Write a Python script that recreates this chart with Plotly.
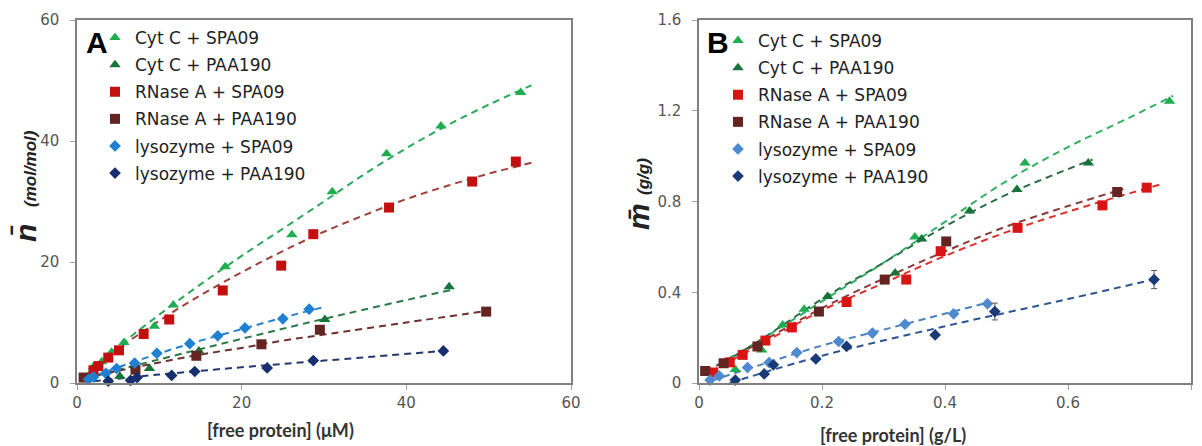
import plotly.graph_objects as go

# ---------------- Panel A data (free protein uM vs n-bar mol/mol) ----------------
a_cyt_spa_x = [2.0, 3.0, 4.2, 5.7, 9.4, 11.7, 18.0, 26.1, 31.0, 37.6, 44.2, 53.9]
a_cyt_spa_y = [2.7, 3.5, 5.1, 6.7, 9.4, 12.9, 19.2, 24.5, 31.6, 37.9, 42.5, 48.0]
a_cyt_paa_x = [5.2, 8.8, 14.8, 30.1, 45.2]
a_cyt_paa_y = [1.1, 2.4, 5.3, 10.5, 15.9]
a_rna_spa_x = [2.0, 2.6, 3.8, 5.1, 8.1, 11.2, 17.7, 24.8, 28.7, 37.9, 48.0, 53.3]
a_rna_spa_y = [2.1, 2.8, 4.2, 5.4, 8.1, 10.5, 15.3, 19.4, 24.6, 29.0, 33.3, 36.6]
a_rna_paa_x = [0.8, 7.1, 14.5, 22.4, 29.5, 49.7]
a_rna_paa_y = [0.9, 2.2, 4.5, 6.4, 8.8, 11.8]
a_lys_spa_x = [1.4, 2.0, 3.5, 4.8, 7.0, 9.7, 13.7, 17.1, 20.4, 25.0, 28.2]
a_lys_spa_y = [0.6, 1.0, 1.6, 2.4, 3.3, 4.9, 6.5, 7.8, 9.1, 10.6, 12.2]
a_lys_paa_x = [3.8, 6.5, 7.3, 11.5, 14.3, 23.1, 28.7, 44.5]
a_lys_paa_y = [0.3, 0.45, 0.9, 1.25, 1.9, 2.5, 3.7, 5.3]

# fitted curves
a_fit_cyt_spa_x = [1, 5, 10, 15, 20, 25, 30, 35, 40, 45, 50, 55.2]
a_fit_cyt_spa_y = [1.2, 6.0, 11.3, 16.3, 21.0, 25.5, 30.0, 34.6, 38.8, 42.6, 46.0, 49.2]
a_fit_cyt_paa_x = [2, 10, 20, 30, 45.5]
a_fit_cyt_paa_y = [1.1, 3.9, 7.3, 10.6, 15.4]
a_fit_rna_spa_x = [1, 5, 10, 15, 20, 25, 30, 35, 40, 45, 50, 55.2]
a_fit_rna_spa_y = [1.1, 5.6, 10.3, 14.5, 18.3, 21.8, 25.0, 27.8, 30.4, 32.6, 34.6, 36.4]
a_fit_rna_paa_x = [0.8, 5, 10, 15, 20, 25, 30, 40, 49.7]
a_fit_rna_paa_y = [0.8, 2.0, 3.4, 4.7, 5.8, 7.0, 8.0, 10.0, 11.9]
a_fit_lys_spa_x = [1, 5, 10, 15, 20, 25, 30.1]
a_fit_lys_spa_y = [0.6, 2.6, 4.9, 7.0, 8.9, 10.8, 12.6]
a_fit_lys_paa_x = [2, 10, 20, 30, 44.5]
a_fit_lys_paa_y = [0.3, 1.4, 2.6, 3.7, 5.3]

# ---------------- Panel B data (free protein g/L vs m-bar g/g) ----------------
b_cyt_spa_x = [0.059, 0.102, 0.136, 0.171, 0.351, 0.530, 0.765]
b_cyt_spa_y = [0.060, 0.146, 0.256, 0.325, 0.643, 0.970, 1.242]
b_cyt_paa_x = [0.209, 0.319, 0.362, 0.440, 0.517, 0.633]
b_cyt_paa_y = [0.381, 0.485, 0.635, 0.758, 0.853, 0.970]
b_rna_spa_x = [0.023, 0.050, 0.071, 0.108, 0.151, 0.240, 0.337, 0.393, 0.518, 0.656, 0.728]
b_rna_spa_y = [0.046, 0.091, 0.124, 0.187, 0.245, 0.357, 0.456, 0.581, 0.684, 0.783, 0.861]
b_rna_paa_x = [0.010, 0.040, 0.095, 0.195, 0.302, 0.402, 0.680]
b_rna_paa_y = [0.053, 0.087, 0.161, 0.315, 0.456, 0.624, 0.842]
b_lys_spa_x = [0.018, 0.033, 0.079, 0.114, 0.159, 0.227, 0.282, 0.335, 0.414, 0.469]
b_lys_spa_y = [0.013, 0.031, 0.068, 0.090, 0.134, 0.183, 0.220, 0.259, 0.305, 0.349]
b_lys_paa_x = [0.059, 0.106, 0.121, 0.190, 0.240, 0.384, 0.481, 0.740]
b_lys_paa_y = [0.013, 0.040, 0.080, 0.106, 0.161, 0.212, 0.315, 0.456]
b_lys_paa_err = [0, 0, 0, 0, 0, 0, 0.037, 0.040]

b_fit_cyt_spa_x = [0.03, 0.1, 0.2, 0.3, 0.4, 0.5, 0.6, 0.7, 0.771]
b_fit_cyt_spa_y = [0.08, 0.19, 0.36, 0.53, 0.71, 0.89, 1.04, 1.17, 1.266]
b_fit_cyt_paa_x = [0.04, 0.1, 0.2, 0.3, 0.4, 0.5, 0.64]
b_fit_cyt_paa_y = [0.09, 0.19, 0.37, 0.53, 0.69, 0.83, 0.985]
b_fit_rna_spa_x = [0.02, 0.1, 0.2, 0.3, 0.4, 0.5, 0.6, 0.75]
b_fit_rna_spa_y = [0.05, 0.17, 0.32, 0.44, 0.56, 0.665, 0.755, 0.875]
b_fit_rna_paa_x = [0.01, 0.1, 0.2, 0.3, 0.4, 0.5, 0.6, 0.69]
b_fit_rna_paa_y = [0.05, 0.18, 0.33, 0.46, 0.58, 0.69, 0.78, 0.855]
b_fit_lys_spa_x = [0.02, 0.1, 0.2, 0.3, 0.47]
b_fit_lys_spa_y = [0.01, 0.08, 0.165, 0.235, 0.355]
b_fit_lys_paa_x = [0.05, 0.2, 0.4, 0.6, 0.745]
b_fit_lys_paa_y = [0.0, 0.12, 0.25, 0.37, 0.46]

names = ["Cyt C + SPA09", "Cyt C + PAA190", "RNase A + SPA09",
         "RNase A + PAA190", "lysozyme + SPA09", "lysozyme + PAA190"]
symbols = ["triangle-up", "triangle-up", "square", "square", "diamond", "diamond"]
sizes = [10, 10, 10, 10, 9, 9]
colA = ["#1fae4f", "#17733a", "#c30f0f", "#632422", "#1f7fd0", "#172f6e"]
colB = ["#1fae4f", "#17733a", "#d81414", "#632422", "#4f8ad0", "#1b3a78"]
fitA = ["#2aa85a", "#2a7a48", "#a0403c", "#6e302e", "#2a80cc", "#22386e"]
fitB = ["#30b060", "#2a6e48", "#e0302a", "#8a3a38", "#4a80c4", "#2d5590"]

fig = go.Figure()

A_pts = [(a_cyt_spa_x, a_cyt_spa_y), (a_cyt_paa_x, a_cyt_paa_y), (a_rna_spa_x, a_rna_spa_y),
         (a_rna_paa_x, a_rna_paa_y), (a_lys_spa_x, a_lys_spa_y), (a_lys_paa_x, a_lys_paa_y)]
A_fit = [(a_fit_cyt_spa_x, a_fit_cyt_spa_y), (a_fit_cyt_paa_x, a_fit_cyt_paa_y),
         (a_fit_rna_spa_x, a_fit_rna_spa_y), (a_fit_rna_paa_x, a_fit_rna_paa_y),
         (a_fit_lys_spa_x, a_fit_lys_spa_y), (a_fit_lys_paa_x, a_fit_lys_paa_y)]
B_pts = [(b_cyt_spa_x, b_cyt_spa_y), (b_cyt_paa_x, b_cyt_paa_y), (b_rna_spa_x, b_rna_spa_y),
         (b_rna_paa_x, b_rna_paa_y), (b_lys_spa_x, b_lys_spa_y), (b_lys_paa_x, b_lys_paa_y)]
B_fit = [(b_fit_cyt_spa_x, b_fit_cyt_spa_y), (b_fit_cyt_paa_x, b_fit_cyt_paa_y),
         (b_fit_rna_spa_x, b_fit_rna_spa_y), (b_fit_rna_paa_x, b_fit_rna_paa_y),
         (b_fit_lys_spa_x, b_fit_lys_spa_y), (b_fit_lys_paa_x, b_fit_lys_paa_y)]

dash = "7px,5px"
for i in range(6):
    fig.add_trace(go.Scatter(x=A_fit[i][0], y=A_fit[i][1], mode="lines", showlegend=False,
                             line=dict(color=fitA[i], width=2, dash=dash, shape="spline"),
                             xaxis="x", yaxis="y", hoverinfo="skip"))
for i in range(6):
    fig.add_trace(go.Scatter(x=A_pts[i][0], y=A_pts[i][1], mode="markers", name=names[i],
                             marker=dict(symbol=symbols[i], size=sizes[i], color=colA[i]),
                             xaxis="x", yaxis="y", legend="legend", legendgroup="a%d" % i,
                             cliponaxis=False))
for i in range(6):
    fig.add_trace(go.Scatter(x=B_fit[i][0], y=B_fit[i][1], mode="lines", showlegend=False,
                             line=dict(color=fitB[i], width=2, dash=dash, shape="spline"),
                             xaxis="x2", yaxis="y2", hoverinfo="skip"))
for i in range(6):
    err = None
    if i == 5:
        err = dict(type="data", array=b_lys_paa_err, visible=True, color="#555555",
                   thickness=1, width=3)
    fig.add_trace(go.Scatter(x=B_pts[i][0], y=B_pts[i][1], mode="markers", name=names[i],
                             marker=dict(symbol=symbols[i], size=sizes[i], color=colB[i]),
                             error_y=err, xaxis="x2", yaxis="y2", legend="legend2",
                             legendgroup="b%d" % i, cliponaxis=False))

W, H = 1202, 446
axis_common = dict(showgrid=False, zeroline=False, showline=True, linecolor="#808080",
                   linewidth=1.5, mirror=True, ticks="outside", ticklen=5, automargin=False,
                   tickcolor="#a0a0a0", tickfont=dict(family="DejaVu Sans", size=15, color="#555555"))

legend_common = dict(font=dict(family="DejaVu Sans", size=17, color="#222222"),
                     bgcolor="rgba(0,0,0,0)", borderwidth=0, itemwidth=30,
                     xanchor="left", yanchor="top", traceorder="grouped", tracegroupgap=2)

fig.update_layout(
    width=W, height=H, margin=dict(l=0, r=0, t=0, b=0, autoexpand=False),
    paper_bgcolor="white", plot_bgcolor="white",
    font=dict(family="DejaVu Sans"),
    xaxis=dict(domain=[77 / W, 571 / W], range=[0, 60], tickvals=[0, 20, 40, 60],
               anchor="y", **axis_common),
    yaxis=dict(domain=[1 - 383 / H, 1 - 20 / H], range=[0, 60], tickvals=[0, 20, 40, 60],
               anchor="x", ticklabelstandoff=8, **axis_common),
    xaxis2=dict(domain=[699 / W, 1191 / W], range=[0, 0.8],
                tickvals=[0, 0.2, 0.4, 0.6, 0.8], ticktext=["0", "0.2", "0.4", "0.6", "0.8"],
                anchor="y2", **axis_common),
    yaxis2=dict(domain=[1 - 383 / H, 1 - 20 / H], range=[0, 1.6],
                tickvals=[0, 0.4, 0.8, 1.2, 1.6], ticktext=["0", "0.4", "0.8", "1.2", "1.6"],
                anchor="x2", ticklabelstandoff=8, **axis_common),
    legend=dict(x=95 / W, y=1 - 20 / H, **legend_common),
    legend2=dict(x=718 / W, y=1 - 23 / H, **legend_common),
    showlegend=True,
)

annots = [
    dict(text="<b>A</b>", x=97 / W, y=1 - 42 / H, font=dict(family="Liberation Sans", size=30, color="black")),
    dict(text="<b>B</b>", x=718 / W, y=1 - 42 / H, font=dict(family="Liberation Sans", size=30, color="black")),
    dict(text="<b>[free protein] (μM)</b>", x=280 / W, y=1 - 430 / H,
         font=dict(family="Lato", size=18, color="#333333")),
    dict(text="<b>[free protein] (g/L)</b>", x=893 / W, y=1 - 435 / H,
         font=dict(family="Lato", size=18, color="#333333")),
    dict(text="<b><i>n\u0304</i></b>  <b><i><span style='font-size:17px'>(mol/mol)</span></i></b>",
         x=25 / W, y=1 - 186 / H, textangle=-90, font=dict(family="Liberation Sans", size=30, color="#222222")),
    dict(text="<b><i>m\u0304</i></b> <b><i><span style='font-size:17px'>(g/g)</span></i></b>",
         x=639 / W, y=1 - 194 / H, textangle=-90, font=dict(family="Liberation Sans", size=30, color="#222222")),
]
for a in annots:
    fig.add_annotation(xref="paper", yref="paper", showarrow=False, xanchor="center",
                       yanchor="middle", **a)

fig.write_html("out.html", config={"displayModeBar": False},
               post_script="document.body.style.margin='0';document.body.style.overflow='hidden';")
